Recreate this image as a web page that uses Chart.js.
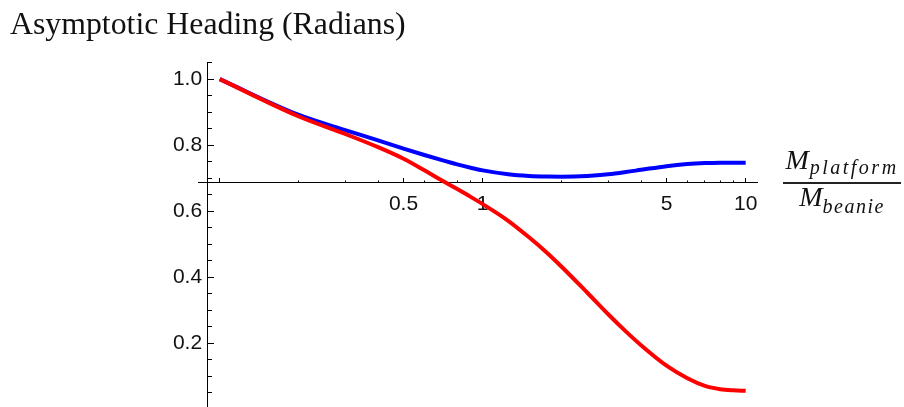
<!DOCTYPE html>
<html>
<head>
<meta charset="utf-8">
<script src="https://cdn.jsdelivr.net/npm/chart.js@4.4.1/dist/chart.umd.min.js"></script>
<style>
  html, body { margin: 0; padding: 0; background: #fff; }
  #wrap { position: relative; width: 904px; height: 407px; overflow: hidden; }
  #title { position: absolute; left: 10px; top: 8px; font: 31.8px/31px "Liberation Serif", serif; color: #111; white-space: nowrap; }
  .frac { position: absolute; left: 783px; width: 118px; text-align: center; font: italic 28px/28px "Liberation Serif", serif; color: #111; white-space: nowrap; }
  .frac sub { font-size: 20px; vertical-align: baseline; position: relative; }
  #num { top: 146px; letter-spacing: 1px; }
  #num sub { top: 5px; letter-spacing: 2.5px; }
  #bar { position: absolute; left: 783px; top: 182px; width: 118px; height: 1.5px; background: #222; }
  #den { top: 183px; }
  #den sub { top: 7px; letter-spacing: 1.5px; }
</style>
</head>
<body>
<div id="wrap">
  <canvas id="chart"></canvas>
  <div id="title">Asymptotic Heading (Radians)</div>
  <div class="frac" id="num">M<sub>platform</sub></div>
  <div id="bar"></div>
  <div class="frac" id="den">M<sub>beanie</sub></div>
</div>
<script>
// --- data ---
const massRatio = [0.1, 0.2, 0.3, 0.4, 0.5, 0.6, 0.7, 0.8, 0.9, 1, 1.25, 1.5, 1.75, 2, 2.5, 3, 3.5, 4, 5, 6, 7, 8, 9, 10];
const headingBlue = [1.000, 0.8916, 0.8458, 0.8146, 0.7898, 0.7704, 0.7547, 0.7419, 0.7317, 0.7237, 0.7121, 0.7070, 0.7050, 0.7045, 0.7069, 0.7120, 0.7187, 0.7254, 0.7365, 0.7428, 0.7458, 0.7470, 0.7472, 0.7468];
const headingRed = [1.000, 0.887, 0.834, 0.794, 0.759, 0.724, 0.693, 0.667, 0.6435, 0.6215, 0.571, 0.521, 0.475, 0.431, 0.353, 0.288, 0.236, 0.194, 0.132, 0.094, 0.071, 0.061, 0.0575, 0.056];

// --- ticks ---
const xMajorTicks = [0.1, 0.5, 1, 5, 10];
const xMajorLabels = ["", "0.5", "1", "5", "10"];
const xMinorTicks = [0.2, 0.3, 0.4, 0.6, 0.7, 0.8, 0.9, 2, 3, 4, 6, 7, 8, 9];
const yMajorTicks = [0.2, 0.4, 0.6, 0.8, 1.0];
const yMajorLabels = ["0.2", "0.4", "0.6", "0.8", "1.0"];
const yMinorTicks = [0.05, 0.1, 0.15, 0.25, 0.3, 0.35, 0.45, 0.5, 0.55, 0.65, 0.7, 0.75, 0.85, 0.9, 0.95, 1.05];

// axis ranges and crossing point
const xMin = 0.0827, xMax = 11.04, yMin = 0.007, yMax = 1.052;
const xCross = 0.0902, yCross = 0.6867;
const yLabelAt = 0.0857; // y labels sit a little left of the y axis

const toPts = vals => massRatio.map((x, i) => ({ x: x, y: vals[i] }));

function fixedTicks(list) {
  return scale => { scale.ticks = list.map(v => ({ value: v })); };
}
function noPad(scale) {
  scale.paddingTop = 0; scale.paddingBottom = 0;
  scale.paddingLeft = 0; scale.paddingRight = 0;
}

const tickFont = { family: "'Liberation Sans', Arial, sans-serif", size: 21 };

new Chart(document.getElementById("chart"), {
  type: "line",
  data: {
    datasets: [
      {
        label: "red",
        data: toPts(headingRed),
        borderColor: "#ff0000",
        borderWidth: 4,
        pointRadius: 0,
        cubicInterpolationMode: "monotone",
        fill: false
      },
      {
        label: "blue",
        data: toPts(headingBlue),
        borderColor: "#0000ff",
        borderWidth: 4,
        pointRadius: 0,
        cubicInterpolationMode: "monotone",
        fill: false
      }
    ]
  },
  options: {
    responsive: true,
    maintainAspectRatio: false,
    animation: false,
    layout: { padding: { left: 198, right: 147, top: 62, bottom: 0 } },
    plugins: { legend: { display: false }, tooltip: { enabled: false }, title: { display: false } },
    scales: {
      x: {
        type: "logarithmic",
        min: xMin, max: xMax,
        position: { y: yCross },
        afterBuildTicks: fixedTicks(xMajorTicks),
        afterFit: noPad,
        border: { display: true, color: "#000", width: 1 },
        grid: { drawOnChartArea: false, tickLength: -5, color: "#000", tickColor: "#000", lineWidth: 1 },
        ticks: {
          autoSkip: false, maxRotation: 0, padding: 14, color: "#111", font: tickFont,
          callback: v => xMajorLabels[xMajorTicks.indexOf(v)] ?? ""
        }
      },
      x2: {
        type: "logarithmic",
        min: xMin, max: xMax,
        position: { y: yCross },
        afterBuildTicks: fixedTicks(xMinorTicks),
        afterFit: noPad,
        border: { display: false },
        grid: { drawOnChartArea: false, tickLength: -2.5, tickColor: "#000", lineWidth: 1 },
        ticks: { display: false, autoSkip: false }
      },
      y: {
        type: "linear",
        min: yMin, max: yMax,
        position: { x: xCross },
        afterBuildTicks: fixedTicks(yMajorTicks),
        afterFit: noPad,
        border: { display: true, color: "#000", width: 1 },
        grid: { drawOnChartArea: false, tickLength: -7, tickColor: "#000", lineWidth: 1 },
        ticks: { display: false, autoSkip: false }
      },
      y2: {
        type: "linear",
        min: yMin, max: yMax,
        position: { x: xCross },
        afterBuildTicks: fixedTicks(yMinorTicks),
        afterFit: noPad,
        border: { display: false },
        grid: { drawOnChartArea: false, tickLength: -4, tickColor: "#000", lineWidth: 1 },
        ticks: { display: false, autoSkip: false }
      },
      yLabels: {
        type: "linear",
        min: yMin, max: yMax,
        position: { x: yLabelAt },
        afterBuildTicks: fixedTicks(yMajorTicks),
        afterFit: noPad,
        border: { display: false },
        grid: { display: false },
        ticks: {
          autoSkip: false, color: "#111", font: tickFont,
          callback: v => yMajorLabels[yMajorTicks.indexOf(v)] ?? ""
        }
      }
    }
  }
});
</script>
</body>
</html>
